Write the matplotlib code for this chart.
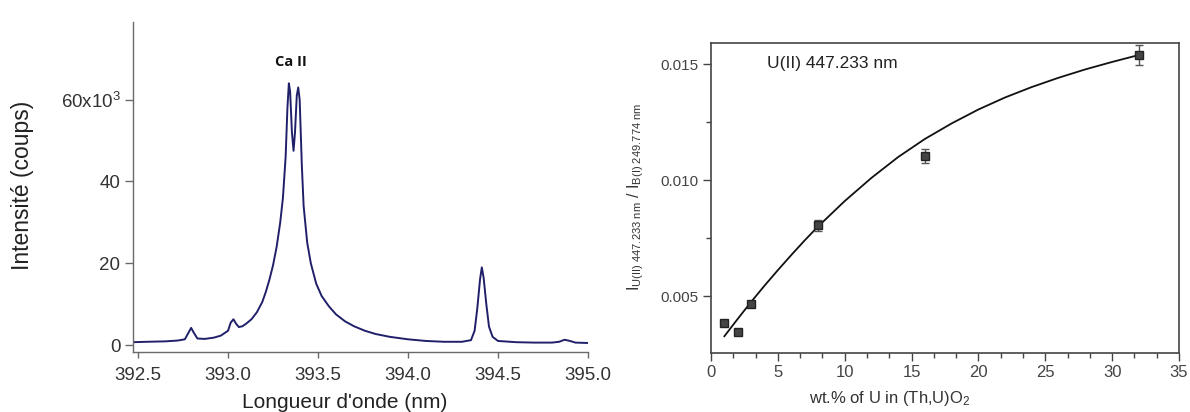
import matplotlib
matplotlib.use('Agg')
import matplotlib.pyplot as plt
import numpy as np
from matplotlib.ticker import AutoMinorLocator, FixedFormatter

# ---------------- data ----------------
# Left panel: Ca II spectrum (wavelength in nm, intensity in 10^3 counts)
wavelength_nm = [392.47, 392.55, 392.65, 392.72, 392.76, 392.78, 392.795, 392.81, 392.83,
                 392.87, 392.92, 392.96, 393.00, 393.015, 393.03, 393.045, 393.06, 393.08,
                 393.10, 393.13, 393.16, 393.19, 393.21, 393.23, 393.25, 393.27, 393.29,
                 393.305, 393.32, 393.33, 393.338, 393.345, 393.355, 393.364, 393.372,
                 393.382, 393.39, 393.398, 393.41, 393.42, 393.44, 393.46, 393.49, 393.52,
                 393.56, 393.60, 393.65, 393.70, 393.76, 393.82, 393.90, 394.00, 394.10,
                 394.20, 394.30, 394.35, 394.37, 394.385, 394.40, 394.41, 394.42, 394.435,
                 394.45, 394.47, 394.50, 394.60, 394.70, 394.80, 394.84, 394.87, 394.90,
                 394.93, 395.00]
intensity_k = [0.7, 0.8, 0.9, 1.1, 1.4, 3.0, 4.2, 3.0, 1.6,
               1.5, 1.8, 2.3, 3.5, 5.5, 6.3, 5.2, 4.4, 4.6,
               5.2, 6.3, 8.0, 10.5, 13.0, 16.0, 19.5, 24.0, 30.0,
               36.0, 46.0, 58.0, 64.0, 62.0, 52.0, 47.5, 52.0,
               61.0, 63.0, 60.0, 44.0, 34.0, 25.0, 20.0, 15.0, 12.0,
               9.5, 7.5, 5.8, 4.6, 3.5, 2.7, 2.0, 1.4, 1.0,
               0.8, 0.8, 1.2, 3.5, 9.0, 16.0, 19.0, 16.5, 10.0,
               4.5, 2.0, 1.0, 0.7, 0.6, 0.6, 0.8, 1.3, 1.0,
               0.6, 0.5]
spec_xticks = [392.5, 393.0, 393.5, 394.0, 394.5, 395.0]
spec_xticklabels = ['392.5', '393.0', '393.5', '394.0', '394.5', '395.0']
spec_yticks_k = [0, 20, 40, 60]
spec_yticklabels = ['0', '20', '40', r'60x10$^{3}$']
peak_label = 'Ca II'

# Right panel: calibration U(II) 447.233 nm
wt_pct_U = [1, 2, 3, 8, 16, 32]
ratio = [0.00383, 0.00344, 0.00466, 0.00805, 0.01104, 0.01539]
ratio_err = [0.0001, 0.0001, 0.0001, 0.00025, 0.0003, 0.00043]
fit_x = [1, 2, 3, 4, 5, 6, 7, 8, 10, 12, 14, 16, 18, 20, 22, 24, 26, 28, 30, 32]
fit_y = [0.00327, 0.00402, 0.00475, 0.00545, 0.00612, 0.00677, 0.00740, 0.00800, 0.00910,
         0.01010, 0.01100, 0.01178, 0.01245, 0.01305, 0.01357, 0.01402, 0.01442, 0.01478,
         0.01510, 0.01540]
cal_xticks = [0, 5, 10, 15, 20, 25, 30, 35]
cal_yticks = [0.005, 0.010, 0.015]
cal_yticklabels = ['0.005', '0.010', '0.015']
cal_title = 'U(II) 447.233 nm'

# ---------------- style ----------------
plt.rcParams['font.family'] = ['Liberation Sans', 'DejaVu Sans']
plt.rcParams['mathtext.fontset'] = 'custom'
plt.rcParams['mathtext.rm'] = 'Liberation Sans'
plt.rcParams['mathtext.it'] = 'Liberation Sans:italic'
plt.rcParams['mathtext.bf'] = 'Liberation Sans:bold'

W, H = 1190, 412
fig = plt.figure(figsize=(W / 100, H / 100), dpi=100)
fig.patch.set_facecolor('white')

# ---------------- left panel ----------------
ax1 = fig.add_axes([133 / W, (H - 352) / H, 455 / W, 330 / H])
ax1.plot(np.array(wavelength_nm), np.array(intensity_k) * 1e3, color='#20206a', lw=1.4)
ax1.set_xlim(392.472, 395.0)
ax1.set_ylim(-1.7e3, 79e3)
ax1.set_xticks(spec_xticks)
ax1.set_xticklabels(spec_xticklabels)
ax1.set_yticks([v * 1e3 for v in spec_yticks_k])
ax1.set_yticklabels(spec_yticklabels)
for s in ['top', 'right']:
    ax1.spines[s].set_visible(False)
for s in ['left', 'bottom']:
    ax1.spines[s].set_color('#6a6a6a')
    ax1.spines[s].set_linewidth(1.0)
ax1.tick_params(axis='both', direction='out', length=6, width=1.0, color='#6a6a6a',
                labelsize=13.5, labelcolor='#333333', pad=3)
ax1.tick_params(axis='x', length=4, pad=7)
ax1.set_xlabel("Longueur d'onde (nm)", fontsize=15, color='#222222', va='center')
ax1.xaxis.set_label_coords(0.466, -0.152)
ax1.set_ylabel('Intensité (coups)', fontsize=16.5, color='#222222', va='center')
ax1.yaxis.set_label_coords(-0.242, 0.506)
ax1.text(393.35, 69.3e3, peak_label, fontsize=10.5, fontweight='bold',
         family=['Open Sans', 'DejaVu Sans'], ha='center', va='center', color='#111111')

# ---------------- right panel ----------------
ax2 = fig.add_axes([711 / W, (H - 352.7) / H, 468 / W, 310 / H])
ax2.plot(fit_x, fit_y, color='#111111', lw=1.3, zorder=2)
ax2.errorbar(wt_pct_U, ratio, yerr=ratio_err, fmt='s', ms=5.5, mfc='#444444', mec='#222222',
             mew=1.0, ecolor='#555555', elinewidth=1.0, capsize=3, capthick=1.0, zorder=3)
ax2.set_xlim(0, 35)
ax2.set_ylim(0.00256, 0.01593)
ax2.set_xticks(cal_xticks)
ax2.set_yticks(cal_yticks)
ax2.yaxis.set_major_formatter(FixedFormatter(cal_yticklabels))
ax2.xaxis.set_minor_locator(AutoMinorLocator(3))
ax2.yaxis.set_minor_locator(AutoMinorLocator(2))
for s in ax2.spines.values():
    s.set_color('#444444')
    s.set_linewidth(1.2)
ax2.tick_params(axis='both', which='major', direction='out', length=6, width=1.0,
                color='#444444', labelcolor='#444444', pad=3)
ax2.tick_params(axis='both', which='minor', direction='out', length=3.5, width=1.0,
                color='#444444')
ax2.tick_params(axis='x', which='major', labelsize=12)
ax2.tick_params(axis='y', which='major', labelsize=11)
ax2.text(4.18, 0.01505, cal_title, fontsize=12.5, color='#222222', ha='left', va='center')
ax2.set_xlabel(r'wt.% of U in (Th,U)O$_{2}$', fontsize=12, color='#333333', va='center')
ax2.xaxis.set_label_coords(0.382, -0.149)
ax2.set_ylabel(r'$\mathrm{I}_{\mathrm{U(II)\ 447.233\ nm}}\ /\ \mathrm{I}_{\mathrm{B(I)\ 249.774\ nm}}$',
               fontsize=11.5, color='#333333', va='center')
ax2.yaxis.set_label_coords(-0.16, 0.502)

fig.savefig('out.png', dpi=100, facecolor='white')
